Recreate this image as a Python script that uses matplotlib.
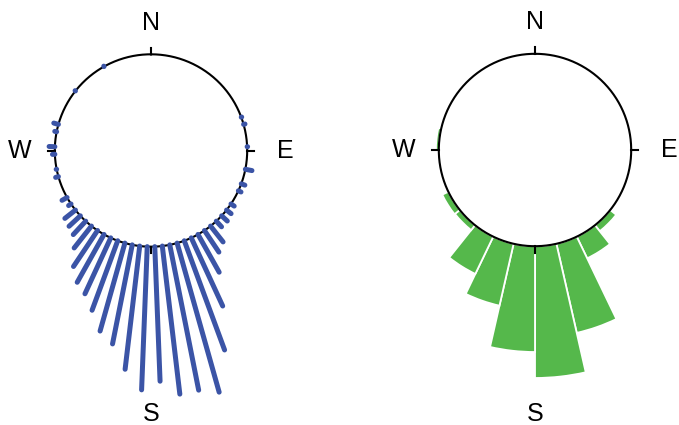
import numpy as np
import matplotlib.pyplot as plt

# left panel: one stroke per 4.5 degree bin (bin centre in degrees, length beyond the circle)
line_dirs = [69.75, 74.25, 87.75, 101.25, 110.25, 114.75, 123.75, 128.25, 132.75, 137.25,
             141.75, 146.25, 150.75, 155.25, 159.75, 164.25, 168.75, 173.25, 177.75,
             182.25, 186.75, 191.25, 195.75, 200.25, 204.75, 209.25, 213.75, 218.25,
             222.75, 227.25, 231.75, 236.25, 240.75, 254.25, 258.75, 267.75, 272.25,
             281.25, 285.75, 308.25, 330.75]
line_len = [0.005, 0.015, 0.005, 0.07, 0.04, 0.03, 0.04, 0.06, 0.08, 0.08,
            0.21, 0.27, 0.45, 0.78, 1.21, 1.61, 1.54, 1.55, 1.40,
            1.49, 1.29, 1.05, 0.95, 0.77, 0.64, 0.57, 0.45, 0.29,
            0.19, 0.16, 0.14, 0.03, 0.06, 0.03, 0.005, 0.025, 0.06,
            0.02, 0.05, 0.005, 0.005]

# right panel: 28 bins clockwise from north
rose_heights = [0, 0, 0, 0, 0, 0, 0, 0.008, 0.008, 0.008, 0.08, 0.25, 0.95, 1.37,
                1.10, 0.66, 0.43, 0.065, 0.07, 0.008, 0.008, 0.03, 0, 0, 0, 0, 0, 0]

compass = ['N', 'E', 'S', 'W']
label_r = [1.33, 1.40, 2.74, 1.36]

W, H = 679, 425
R = 96.2
rmax = 2.9

fig = plt.figure(figsize=(W / 100, H / 100), dpi=100)


def make_ax(cx, cy):
    half = R * rmax
    ax = fig.add_axes([(cx - half) / W, (H - cy - half) / H, 2 * half / W, 2 * half / H],
                      projection='polar')
    ax.set_theta_zero_location('N')
    ax.set_theta_direction(-1)
    ax.set_ylim(0, rmax)
    ax.axis('off')
    t = np.linspace(0, 2 * np.pi, 500)
    ax.plot(t, np.ones_like(t), color='black', lw=1.5, zorder=3)
    for ang, lab, rl in zip([0, 90, 180, 270], compass, label_r):
        th = np.radians(ang)
        ax.plot([th, th], [1, 1.07], color='black', lw=1.5, zorder=3)
        ax.text(th, rl, lab, ha='center', va='center', fontsize=18,
                family='Liberation Sans', color='black')
    return ax


ax1 = make_ax(151, 150.5)
ax1.vlines(np.radians(line_dirs), 1, 1 + np.array(line_len), color='#3b54a6',
           lw=3.6, capstyle='round', zorder=4)

ax2 = make_ax(535, 150)
nb = len(rose_heights)
width = 2 * np.pi / nb
centers = (np.arange(nb) + 0.5) * width
ax2.bar(centers, rose_heights, width=width, bottom=1, color='#55b84b',
        edgecolor='white', linewidth=1.3, zorder=2)

fig.savefig('out.png', dpi=100)
